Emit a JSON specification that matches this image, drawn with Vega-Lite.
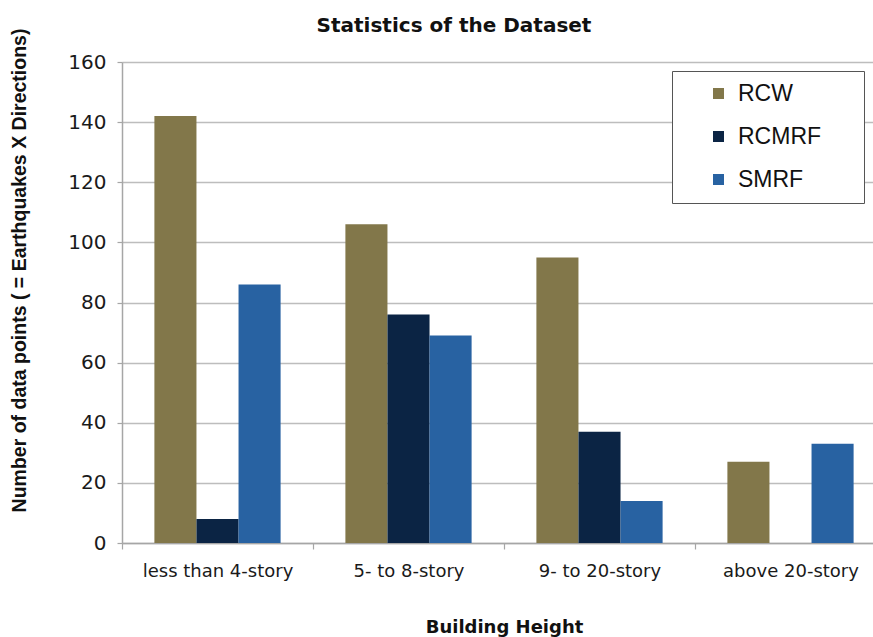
{
  "$schema": "https://vega.github.io/schema/vega-lite/v6.json",
  "width": 764,
  "height": 481,
  "autosize": {"type": "none"},
  "padding": {"left": 122, "top": 62, "right": 0, "bottom": 94},
  "background": "white",
  "title": {
    "text": "Statistics of the Dataset",
    "font": "DejaVu Sans",
    "fontWeight": "bold",
    "fontSize": 20,
    "color": "#111111",
    "anchor": "middle",
    "dx": -50,
    "dy": 30,
    "offset": 22
  },
  "data": {
    "values": [
      {"height": "less than 4-story", "system": "RCW", "count": 142},
      {"height": "less than 4-story", "system": "RCMRF", "count": 8},
      {"height": "less than 4-story", "system": "SMRF", "count": 86},
      {"height": "5- to 8-story", "system": "RCW", "count": 106},
      {"height": "5- to 8-story", "system": "RCMRF", "count": 76},
      {"height": "5- to 8-story", "system": "SMRF", "count": 69},
      {"height": "9- to 20-story", "system": "RCW", "count": 95},
      {"height": "9- to 20-story", "system": "RCMRF", "count": 37},
      {"height": "9- to 20-story", "system": "SMRF", "count": 14},
      {"height": "above 20-story", "system": "RCW", "count": 27},
      {"height": "above 20-story", "system": "SMRF", "count": 33}
    ]
  },
  "mark": {"type": "bar"},
  "encoding": {
    "x": {
      "field": "height",
      "type": "nominal",
      "sort": ["less than 4-story", "5- to 8-story", "9- to 20-story", "above 20-story"],
      "scale": {"paddingInner": 0, "paddingOuter": 0},
      "title": "Building Height",
      "axis": {
        "labelAngle": 0,
        "labelFont": "DejaVu Sans",
        "labelFontSize": 18,
        "labelColor": "#1a1a1a",
        "labelPadding": 13,
        "tickBand": "extent",
        "tickSize": 6,
        "tickColor": "#a6a6a6",
        "tickWidth": 1.2,
        "domainColor": "#a6a6a6",
        "domainWidth": 1.5,
        "grid": false,
        "titleFont": "DejaVu Sans",
        "titleFontWeight": "bold",
        "titleFontSize": 18,
        "titleColor": "#111111",
        "titleBaseline": "alphabetic",
        "titleY": 89
      }
    },
    "xOffset": {
      "field": "system",
      "type": "nominal",
      "sort": ["RCW", "RCMRF", "SMRF"],
      "scale": {"paddingInner": 0, "paddingOuter": 0.77}
    },
    "y": {
      "field": "count",
      "type": "quantitative",
      "scale": {"domain": [0, 160], "nice": false},
      "title": "Number of data points ( = Earthquakes X Directions)",
      "axis": {
        "values": [0, 20, 40, 60, 80, 100, 120, 140, 160],
        "labelFont": "DejaVu Sans",
        "labelFontSize": 20,
        "labelColor": "#1a1a1a",
        "labelPadding": 11,
        "tickSize": 5,
        "tickColor": "#a6a6a6",
        "tickWidth": 1.2,
        "domainColor": "#a6a6a6",
        "domainWidth": 1.5,
        "gridColor": "#bdbdbd",
        "gridWidth": 1.4,
        "titleFont": "Liberation Sans",
        "titleFontWeight": "bold",
        "titleFontSize": 19.5,
        "titleColor": "#111111",
        "titleX": -93,
        "titleY": 208
      }
    },
    "color": {
      "field": "system",
      "type": "nominal",
      "sort": ["RCW", "RCMRF", "SMRF"],
      "scale": {
        "domain": ["RCW", "RCMRF", "SMRF"],
        "range": ["#82774a", "#0b2444", "#2862a2"]
      },
      "legend": {
        "title": null,
        "orient": "none",
        "legendX": 550,
        "legendY": 9,
        "padding": 11,
        "fillColor": "white",
        "strokeColor": "#555555",
        "symbolType": "square",
        "symbolSize": 121,
        "symbolStrokeWidth": 0,
        "symbolOffset": 24,
        "labelOffset": 8,
        "labelFont": "Liberation Sans",
        "labelFontSize": 23,
        "labelColor": "#111111",
        "labelExpr": "datum.label + '     \u200b'",
        "rowPadding": 19
      }
    }
  },
  "config": {
    "view": {"stroke": null}
  }
}
